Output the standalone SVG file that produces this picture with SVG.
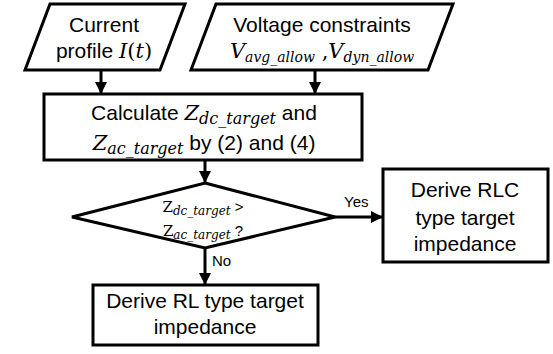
<svg xmlns="http://www.w3.org/2000/svg" width="553" height="354" viewBox="0 0 553 354">
<defs>
<style>
.shape{fill:#fff;stroke:#000;stroke-width:3}
.t{font-family:"Liberation Sans",Arial,sans-serif;font-size:21px;fill:#000;text-anchor:middle}
.m{font-family:"DejaVu Serif","Liberation Serif",serif;font-style:italic}
.u{font-family:"DejaVu Serif","Liberation Serif",serif;font-style:normal}
.sub{font-size:16px}
.lbl{font-family:"Liberation Sans",Arial,sans-serif;font-size:15px;fill:#000}
.c{fill:none;stroke:#000;stroke-width:3}
</style>
<marker id="ah" markerUnits="userSpaceOnUse" markerWidth="12" markerHeight="12" refX="11" refY="6" orient="auto">
<path d="M0,0 L12,6 L0,12 Z" fill="#000"/>
</marker>
</defs>
<g id="connectors">
<line class="c" x1="101" y1="70" x2="101" y2="93" marker-end="url(#ah)"/>
<line class="c" x1="315" y1="70" x2="315" y2="93" marker-end="url(#ah)"/>
<line class="c" x1="205" y1="160" x2="205" y2="182" marker-end="url(#ah)"/>
<line class="c" x1="335" y1="217" x2="382" y2="217" marker-end="url(#ah)"/>
<line class="c" x1="205" y1="248" x2="205" y2="284" marker-end="url(#ah)"/>
<text class="lbl" x="344" y="207">Yes</text>
<text class="lbl" x="212" y="266">No</text>
</g>
<g id="current">
<polygon class="shape" points="50,4 185,4 160,70 25,70"/>
<text class="t" x="104" y="32">Current</text>
<text class="t" x="104" y="58">profile <tspan class="m">I</tspan><tspan class="u">(</tspan><tspan class="m">t</tspan><tspan class="u">)</tspan></text>
</g>
<g id="voltage">
<polygon class="shape" points="216,4 453,4 428,70 191,70"/>
<text class="t" x="322" y="32">Voltage constraints</text>
<text class="t m" x="322" y="58">V<tspan style="font-size:14px" dy="4">avg_allow</tspan><tspan class="u" dy="-4"> ,</tspan>V<tspan style="font-size:14px" dy="4">dyn_allow</tspan></text>
</g>
<g id="calculate">
<rect class="shape" x="44" y="94" width="318" height="66"/>
<text class="t" x="204" y="120">Calculate <tspan class="m">Z</tspan><tspan class="m sub" dy="4">dc_target</tspan><tspan dy="-4"> and</tspan></text>
<text class="t" x="204" y="150"><tspan class="m">Z</tspan><tspan class="m sub" dy="4">ac_target</tspan><tspan dy="-4"> by (2) and (4)</tspan></text>
</g>
<g id="decision">
<polygon class="shape" points="205,183 335,217 205,248 72,217"/>
<text class="t" style="font-size:15px" x="203" y="212"><tspan class="u">Z</tspan><tspan class="m" style="font-size:12px" dy="3">dc_target</tspan><tspan dy="-3"> &gt;</tspan></text>
<text class="t" style="font-size:15px" x="203" y="236"><tspan class="u">Z</tspan><tspan class="m" style="font-size:12px" dy="3">ac_target</tspan><tspan dy="-3"> ?</tspan></text>
</g>
<g id="rlc">
<rect class="shape" x="383" y="169" width="165" height="93"/>
<text class="t" x="465" y="197">Derive RLC</text>
<text class="t" x="465" y="225">type target</text>
<text class="t" x="465" y="251">impedance</text>
</g>
<g id="rl">
<rect class="shape" x="93" y="285" width="225" height="60"/>
<text class="t" x="205" y="308">Derive RL type target</text>
<text class="t" x="205" y="334">impedance</text>
</g>
</svg>
